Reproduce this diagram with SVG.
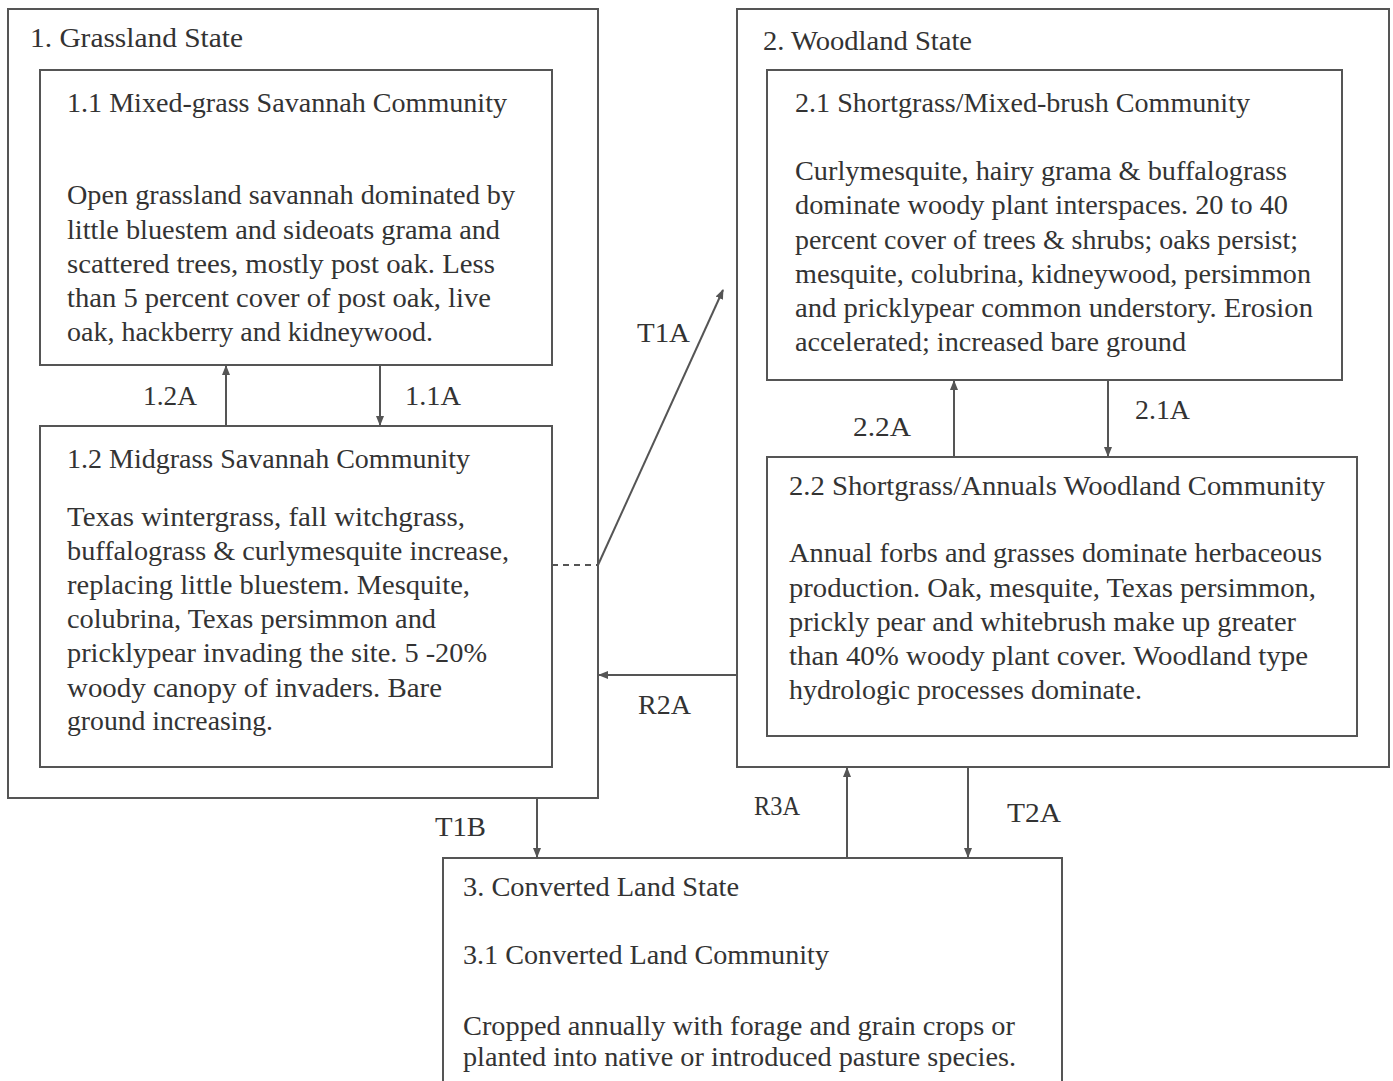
<svg xmlns="http://www.w3.org/2000/svg" width="1393" height="1081" viewBox="0 0 1393 1081">
<style>
.box{fill:none;stroke:#555;stroke-width:2}
.t{font-family:"Liberation Serif","Times New Roman",serif;font-size:28px;fill:#333}
.c{stroke:#555;stroke-width:2;fill:none}
</style>
<defs>
<marker id="ah" viewBox="0 0 10 10" refX="9" refY="5" markerWidth="5" markerHeight="5" orient="auto" markerUnits="strokeWidth">
<path d="M0,1 L10,5 L0,9 z" fill="#555"/>
</marker>
</defs>
<rect width="1393" height="1081" fill="#fff"/>
<g id="state1">
<rect class="box" x="8" y="9" width="590" height="789"/>
<text class="t" x="30" y="47" textLength="213" lengthAdjust="spacingAndGlyphs">1.  Grassland State</text>
</g>
<g id="comm11">
<rect class="box" x="40" y="70" width="512" height="295"/>
<text class="t" x="67" y="112" textLength="440" lengthAdjust="spacingAndGlyphs">1.1 Mixed-grass Savannah Community</text>
<text class="t" x="67" y="204" textLength="448" lengthAdjust="spacingAndGlyphs">Open grassland savannah dominated by</text>
<text class="t" x="67" y="239" textLength="433" lengthAdjust="spacingAndGlyphs">little bluestem and sideoats grama and</text>
<text class="t" x="67" y="273" textLength="428" lengthAdjust="spacingAndGlyphs">scattered trees, mostly post oak.  Less</text>
<text class="t" x="67" y="307" textLength="424" lengthAdjust="spacingAndGlyphs">than 5 percent cover of  post oak, live</text>
<text class="t" x="67" y="341" textLength="366" lengthAdjust="spacingAndGlyphs">oak, hackberry and kidneywood.</text>
</g>
<g id="comm12">
<rect class="box" x="40" y="426" width="512" height="341"/>
<text class="t" x="67" y="468" textLength="403" lengthAdjust="spacingAndGlyphs">1.2 Midgrass Savannah Community</text>
<text class="t" x="67" y="526" textLength="398" lengthAdjust="spacingAndGlyphs">Texas wintergrass, fall witchgrass,</text>
<text class="t" x="67" y="560" textLength="442" lengthAdjust="spacingAndGlyphs">buffalograss &amp; curlymesquite increase,</text>
<text class="t" x="67" y="594" textLength="403" lengthAdjust="spacingAndGlyphs">replacing little bluestem.  Mesquite,</text>
<text class="t" x="67" y="628" textLength="369" lengthAdjust="spacingAndGlyphs">colubrina, Texas persimmon and</text>
<text class="t" x="67" y="662" textLength="420" lengthAdjust="spacingAndGlyphs">pricklypear invading the site. 5 -20%</text>
<text class="t" x="67" y="697" textLength="375" lengthAdjust="spacingAndGlyphs">woody canopy of invaders.  Bare</text>
<text class="t" x="67" y="730" textLength="206" lengthAdjust="spacingAndGlyphs">ground increasing.</text>
</g>
<g id="state2">
<rect class="box" x="737" y="9" width="652" height="758"/>
<text class="t" x="763" y="50" textLength="209" lengthAdjust="spacingAndGlyphs">2. Woodland State</text>
</g>
<g id="comm21">
<rect class="box" x="767" y="70" width="575" height="310"/>
<text class="t" x="795" y="112" textLength="455" lengthAdjust="spacingAndGlyphs">2.1 Shortgrass/Mixed-brush Community</text>
<text class="t" x="795" y="180" textLength="492" lengthAdjust="spacingAndGlyphs">Curlymesquite, hairy grama &amp; buffalograss</text>
<text class="t" x="795" y="214" textLength="493" lengthAdjust="spacingAndGlyphs">dominate woody plant interspaces. 20 to 40</text>
<text class="t" x="795" y="249" textLength="503" lengthAdjust="spacingAndGlyphs">percent cover of trees &amp; shrubs; oaks persist;</text>
<text class="t" x="795" y="283" textLength="516" lengthAdjust="spacingAndGlyphs">mesquite, colubrina, kidneywood, persimmon</text>
<text class="t" x="795" y="317" textLength="518" lengthAdjust="spacingAndGlyphs">and pricklypear common understory.  Erosion</text>
<text class="t" x="795" y="351" textLength="391" lengthAdjust="spacingAndGlyphs">accelerated; increased bare ground</text>
</g>
<g id="comm22">
<rect class="box" x="767" y="457" width="590" height="279"/>
<text class="t" x="789" y="495" textLength="536" lengthAdjust="spacingAndGlyphs">2.2  Shortgrass/Annuals Woodland Community</text>
<text class="t" x="789" y="562" textLength="533" lengthAdjust="spacingAndGlyphs">Annual forbs and grasses dominate herbaceous</text>
<text class="t" x="789" y="597" textLength="527" lengthAdjust="spacingAndGlyphs">production.  Oak, mesquite, Texas persimmon,</text>
<text class="t" x="789" y="631" textLength="507" lengthAdjust="spacingAndGlyphs">prickly pear and whitebrush make up greater</text>
<text class="t" x="789" y="665" textLength="519" lengthAdjust="spacingAndGlyphs">than 40% woody plant cover.  Woodland type</text>
<text class="t" x="789" y="699" textLength="353" lengthAdjust="spacingAndGlyphs">hydrologic processes dominate.</text>
</g>
<g id="state3">
<rect class="box" x="443" y="858" width="619" height="240"/>
<text class="t" x="463" y="896" textLength="276" lengthAdjust="spacingAndGlyphs">3. Converted Land State</text>
<text class="t" x="463" y="964" textLength="366" lengthAdjust="spacingAndGlyphs">3.1 Converted Land Community</text>
<text class="t" x="463" y="1035" textLength="552" lengthAdjust="spacingAndGlyphs">Cropped annually with forage and grain crops or</text>
<text class="t" x="463" y="1066" textLength="553" lengthAdjust="spacingAndGlyphs">planted into native or introduced pasture species.</text>
</g>
<g id="connectors">
<line class="c" x1="226" y1="426" x2="226" y2="366" marker-end="url(#ah)"/>
<line class="c" x1="380" y1="365" x2="380" y2="425" marker-end="url(#ah)"/>
<line class="c" x1="954" y1="457" x2="954" y2="381" marker-end="url(#ah)"/>
<line class="c" x1="1108" y1="380" x2="1108" y2="456" marker-end="url(#ah)"/>
<line class="c" x1="552" y1="565" x2="598" y2="565" stroke-dasharray="6,5"/>
<line class="c" x1="598" y1="565" x2="723" y2="290" marker-end="url(#ah)"/>
<line class="c" x1="737" y1="675" x2="599" y2="675" marker-end="url(#ah)"/>
<line class="c" x1="537" y1="798" x2="537" y2="857" marker-end="url(#ah)"/>
<line class="c" x1="847" y1="858" x2="847" y2="768" marker-end="url(#ah)"/>
<line class="c" x1="968" y1="767" x2="968" y2="857" marker-end="url(#ah)"/>
<text class="t" x="143" y="405" textLength="54" lengthAdjust="spacingAndGlyphs">1.2A</text>
<text class="t" x="405" y="405" textLength="56" lengthAdjust="spacingAndGlyphs">1.1A</text>
<text class="t" x="853" y="436" textLength="58" lengthAdjust="spacingAndGlyphs">2.2A</text>
<text class="t" x="1135" y="419" textLength="55" lengthAdjust="spacingAndGlyphs">2.1A</text>
<text class="t" x="637" y="342" textLength="53" lengthAdjust="spacingAndGlyphs">T1A</text>
<text class="t" x="638" y="714" textLength="53" lengthAdjust="spacingAndGlyphs">R2A</text>
<text class="t" x="435" y="836" textLength="51" lengthAdjust="spacingAndGlyphs">T1B</text>
<text class="t" x="754" y="815" textLength="46" lengthAdjust="spacingAndGlyphs">R3A</text>
<text class="t" x="1007" y="822" textLength="54" lengthAdjust="spacingAndGlyphs">T2A</text>
</g>
</svg>
